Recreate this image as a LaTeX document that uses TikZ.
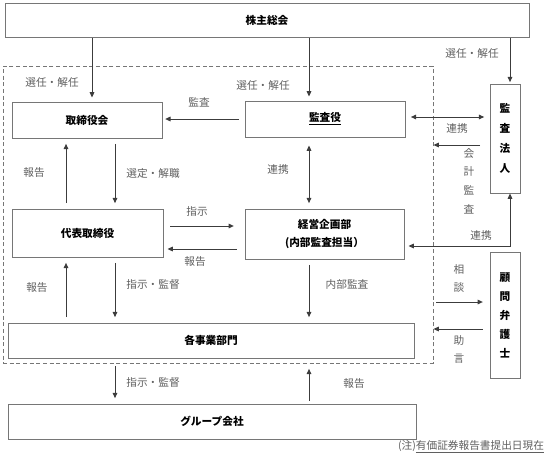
\documentclass[tikz,border=0pt]{standalone}
\usepackage{fontspec}
\setmainfont{Noto Sans CJK JP}
\usetikzlibrary{arrows.meta}
\definecolor{boxgray}{RGB}{118,118,118}
\definecolor{linegray}{RGB}{60,60,60}
\definecolor{txtgray}{RGB}{95,95,95}

\begin{document}
\begin{tikzpicture}[x=0.75pt,y=0.75pt,yscale=-1,xscale=1,
  box/.style={draw=boxgray,line width=0.75pt,inner sep=0pt,align=center,font=\fontsize{8}{10}\selectfont\bfseries},
  vbox/.style={box,font=\fontsize{8}{15}\selectfont\bfseries},
  frame/.style={draw=boxgray,line width=0.75pt,dash pattern=on 3pt off 2pt,inner sep=0pt},
  lbl/.style={text=txtgray,inner sep=0.75pt,align=center,font=\fontsize{8}{14}\selectfont},
  arr/.style={draw=linegray,line width=0.75pt,-{Triangle[length=4pt,width=3.5pt]},shorten >=3pt,shorten <=3pt},
  darr/.style={arr,{Triangle[length=4pt,width=3.5pt]}-{Triangle[length=4pt,width=3.5pt]}}]
\useasboundingbox (0,0) rectangle (552,464);

% Boxes
\node[frame,minimum width=322.5pt,minimum height=222.75pt] (frame) at (218,214.5) {};
\node[box,minimum width=393pt,minimum height=25.5pt] (soukai) at (267,20) {株主総会};
\node[box,minimum width=112.5pt,minimum height=27pt] (torikai) at (87,120) {取締役会};
\node[box,minimum width=120pt,minimum height=27pt] (kansayaku) at (325,119) {\underline{監査役}};
\node[vbox,minimum width=22.5pt,minimum height=81.75pt] (hojin) at (505,138.5) {監\\査\\法\\人};
\node[vbox,minimum width=22.5pt,minimum height=94.5pt,font=\fontsize{8}{14.25}\selectfont\bfseries] (bengoshi) at (505,315) {顧\\問\\弁\\護\\士};
\node[box,minimum width=113.25pt,minimum height=36pt] (daihyo) at (87.5,233) {代表取締役};
\node[box,minimum width=119.25pt,minimum height=37.5pt,font=\fontsize{8}{13.5}\selectfont\bfseries] (keiei) at (324.5,234) {経営企画部\\(内部監査担当）};
\node[box,minimum width=304.5pt,minimum height=26.25pt] (jigyo) at (211,340.5) {各事業部門};
\node[box,minimum width=306pt,minimum height=26.25pt] (group) at (212,421.5) {グループ会社};

% columns and rows of the connectors
\coordinate (xrep) at (66,0);
\coordinate (xgen) at (92,0);
\coordinate (xsel) at (115,0);
\coordinate (xaud) at (309,0);
\coordinate (xhoj) at (510,0);
\coordinate (ykansa) at (0,119);
\coordinate (yrenA) at (0,117);
\coordinate (ykaikei) at (0,145);
\coordinate (yshiji) at (0,226);
\coordinate (yrenB) at (0,246);
\coordinate (yhoukoku) at (0,249);
\coordinate (ysodan) at (0,302);
\coordinate (yjogen) at (0,329);

%Straight Lines
\draw[arr,shorten <=0pt] (soukai.south -| xgen) -- (torikai.north -| xgen);
\draw[arr,shorten <=0pt] (soukai.south -| xaud) -- (kansayaku.north -| xaud);
\draw[arr,shorten <=0pt,shorten >=1pt] (soukai.south -| xhoj) -- (hojin.north -| xhoj);
\draw[arr,shorten <=4pt,shorten >=2pt] (kansayaku.west |- ykansa) -- (torikai.east |- ykansa);
\draw[darr,shorten <=4pt,shorten >=4pt] (kansayaku.east |- yrenA) -- (hojin.west |- yrenA);
\draw[arr,shorten <=7pt,shorten >=0pt] (hojin.west |- ykaikei) -- (frame.east |- ykaikei);
\draw[arr,shorten <=4pt,shorten >=4pt] (daihyo.north -| xrep) -- (torikai.south -| xrep);
\draw[arr,shorten <=4pt,shorten >=4pt] (torikai.south -| xsel) -- (daihyo.north -| xsel);
\draw[darr,shorten <=6pt,shorten >=4pt] (kansayaku.south -| xaud) -- (keiei.north -| xaud);
\draw[arr,shorten <=5pt,shorten >=8pt] (daihyo.east |- yshiji) -- (keiei.west |- yshiji);
\draw[arr,shorten <=6pt,shorten >=3pt] (keiei.west |- yhoukoku) -- (daihyo.east |- yhoukoku);
\draw[darr,shorten <=0pt,shorten >=3pt] (hojin.south -| xhoj) |- (keiei.east |- yrenB);
\draw[arr,shorten <=4pt,shorten >=4pt] (daihyo.south -| xsel) -- (jigyo.north -| xsel);
\draw[arr,shorten <=4pt,shorten >=4pt] (jigyo.north -| xrep) -- (daihyo.south -| xrep);
\draw[arr,shorten <=4pt,shorten >=4pt] (keiei.south -| xaud) -- (jigyo.north -| xaud);
\draw[arr,shorten <=2pt,shorten >=5pt] (frame.east |- ysodan) -- (bengoshi.west |- ysodan);
\draw[arr,shorten <=5pt,shorten >=0pt] (bengoshi.west |- yjogen) -- (frame.east |- yjogen);
\draw[arr,shorten <=2pt,shorten >=4pt] (frame.south -| xsel) -- (group.north -| xsel);
\draw[arr,shorten <=2pt,shorten >=4pt] (group.north -| xaud) -- (frame.south -| xaud);

% Text Node
\node[lbl] (lsen1) at (52,82) {選任・解任};
\node[lbl] (lsen2) at (263,85) {選任・解任};
\node[lbl] (lsen3) at (472,53) {選任・解任};
\node[lbl] (lkansa) at (199,102) {監査};
\node[lbl] (lrenA) at (457,128) {連携};
\node[lbl] (lkaikei) at (469,181) {会\\計\\監\\査};
\node[lbl] (lhou1) at (34,172) {報告};
\node[lbl] (lsentei) at (153,173) {選定・解職};
\node[lbl] (lrenC) at (278,169) {連携};
\node[lbl] (lshiji) at (197,211) {指示};
\node[lbl] (lhou2) at (195,261) {報告};
\node[lbl] (lrenB) at (481,235) {連携};
\node[lbl] (lhou3) at (37,287) {報告};
\node[lbl] (lkantoku1) at (153,284) {指示・監督};
\node[lbl] (lnaibu) at (347,284) {内部監査};
\node[lbl] (lsodan) at (459,278.5) {相\\談};
\node[lbl] (ljogen) at (459,349.5) {助\\言};
\node[lbl] (lkantoku2) at (153,382) {指示・監督};
\node[lbl] (lhou4) at (354,383) {報告};
\node[lbl] (note) at (471,447) {(注)\underline{有価証券報告書提出日現在}};

\end{tikzpicture}
\end{document}
